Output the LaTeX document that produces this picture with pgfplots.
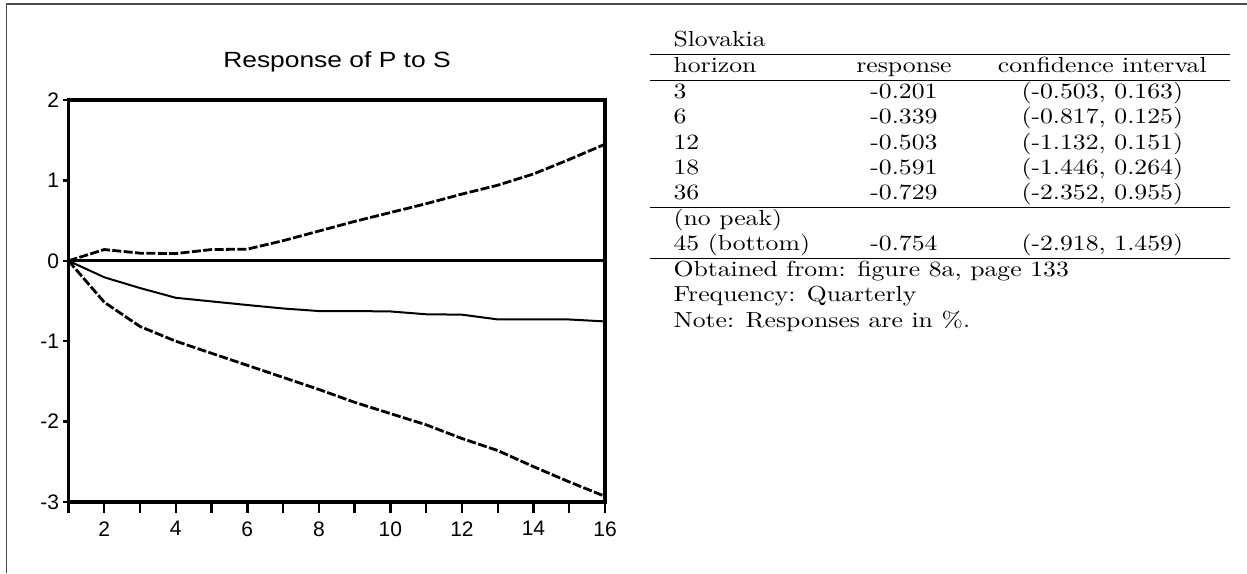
\documentclass[border=0pt]{standalone}
\usepackage{pgfplots}
\pgfplotsset{compat=1.18}
\usepackage{graphicx}
\usepackage{fontspec}
\newfontfamily\arial{Liberation Sans}

\begin{document}
\begin{tikzpicture}
\path[use as bounding box] (0pt,0pt) rectangle (623.5pt,286.5pt);
% outer frame (left and top)
\draw[black!70, line width=0.7pt] (3.3pt,0pt) -- (3.3pt,284.5pt) -- (623.5pt,284.5pt);

\node[anchor=base, inner sep=0pt, font=\arial\fontsize{11}{13}\selectfont] at (168.5pt,252.5pt)
  {\scalebox{1.2}[1]{Response of P to S}};

\begin{axis}[
    at={(34.25pt,35.5pt)}, anchor=south west,
    scale only axis, width=268.25pt, height=201pt,
    xmin=1, xmax=16, ymin=-3, ymax=2,
    axis line style={line width=1.6pt},
    xtick={1,...,16},
    xticklabels={,2,,4,,6,,8,,10,,12,,14,,16},
    ytick={-3,...,2},
    yticklabels={-3,-2,-1,0,1,2},
    xtick pos=bottom, ytick pos=left,
    tick align=outside,
    major tick length=2.5pt,
    xtick style={/pgfplots/major tick length=5.5pt},
    tick style={line width=1.2pt, black},
    xticklabel style={font=\arial\fontsize{10.5}{12}\selectfont, anchor=north, inner sep=0pt, yshift=-7pt},
    yticklabel style={font=\arial\fontsize{10.5}{12}\selectfont, anchor=east, inner sep=0pt, xshift=-2pt},
    clip=false,
]
\addplot[black, line width=1.6pt] coordinates {(1,0) (16,0)};
% response
\addplot[black, line width=1pt] coordinates {
  (1,0) (2,-0.205) (3,-0.339) (4,-0.46) (5,-0.505) (6,-0.55) (7,-0.593) (8,-0.625)
  (9,-0.625) (10,-0.63) (11,-0.665) (12,-0.67) (13,-0.729) (14,-0.73) (15,-0.73) (16,-0.754)
};
% upper band
\addplot[black, line width=1.4pt, dash pattern=on 4.5pt off 1.2pt] coordinates {
  (1,0) (2,0.14) (3,0.095) (4,0.09) (5,0.14) (6,0.145) (7,0.25) (8,0.37)
  (9,0.49) (10,0.60) (11,0.71) (12,0.83) (13,0.94) (14,1.08) (15,1.26) (16,1.45)
};
% lower band
\addplot[black, line width=1.4pt, dash pattern=on 4.5pt off 1.2pt] coordinates {
  (1,0) (2,-0.515) (3,-0.817) (4,-1.0) (5,-1.15) (6,-1.30) (7,-1.45) (8,-1.60)
  (9,-1.76) (10,-1.90) (11,-2.04) (12,-2.21) (13,-2.36) (14,-2.56) (15,-2.75) (16,-2.93)
};
\end{axis}

\node[anchor=base west, inner sep=0pt, font=\fontsize{10.9}{12.6}\selectfont] at (325pt,263.15pt) {%
\setlength\tabcolsep{9.8pt}%
\scalebox{1.18}[1]{%
\begin{tabular}[t]{lcc}
Slovakia & & \\ \hline
horizon & response & confidence interval \\ \hline
3 & -0.201 & (-0.503, 0.163) \\
6 & -0.339 & (-0.817, 0.125) \\
12 & -0.503 & (-1.132, 0.151) \\
18 & -0.591 & (-1.446, 0.264) \\
36 & -0.729 & (-2.352, 0.955) \\ \hline
(no peak) & & \\
45 (bottom) & -0.754 & (-2.918, 1.459) \\ \hline
\multicolumn{3}{l}{Obtained from: figure 8a, page 133} \\
\multicolumn{3}{l}{Frequency: Quarterly} \\
\multicolumn{3}{l}{Note: Responses are in \%.}
\end{tabular}}};
\end{tikzpicture}
\end{document}
